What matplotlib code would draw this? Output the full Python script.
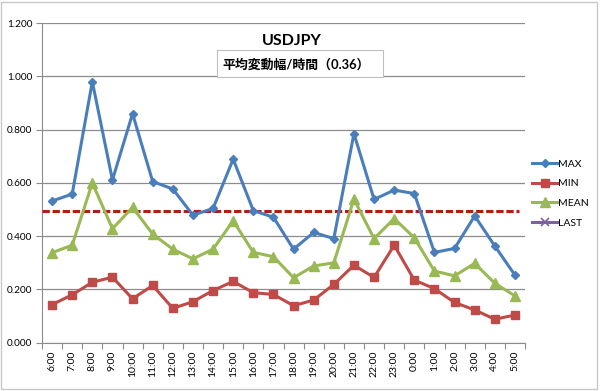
import matplotlib
matplotlib.use("Agg")
import matplotlib.pyplot as plt
from matplotlib.patches import Rectangle

plt.rcParams['font.family'] = ['Lato', 'Noto Sans CJK JP', 'DejaVu Sans']

hours = ["6:00", "7:00", "8:00", "9:00", "10:00", "11:00", "12:00", "13:00", "14:00",
         "15:00", "16:00", "17:00", "18:00", "19:00", "20:00", "21:00", "22:00", "23:00",
         "0:00", "1:00", "2:00", "3:00", "4:00", "5:00"]
max_vals = [0.532, 0.558, 0.980, 0.611, 0.860, 0.605, 0.577, 0.479, 0.504, 0.689, 0.496, 0.471,
            0.351, 0.414, 0.391, 0.785, 0.538, 0.573, 0.560, 0.339, 0.354, 0.476, 0.363, 0.254]
min_vals = [0.143, 0.180, 0.227, 0.246, 0.165, 0.215, 0.129, 0.154, 0.196, 0.230, 0.188, 0.181,
            0.139, 0.160, 0.219, 0.291, 0.245, 0.366, 0.235, 0.203, 0.151, 0.123, 0.088, 0.104]
mean_vals = [0.338, 0.366, 0.600, 0.428, 0.508, 0.408, 0.351, 0.315, 0.351, 0.458, 0.339, 0.323,
             0.244, 0.288, 0.300, 0.539, 0.391, 0.466, 0.394, 0.269, 0.251, 0.298, 0.223, 0.176]
last_vals = []
threshold = 0.493
title = "USDJPY"
subtitle = "平均変動幅/時間（0.36）"

fig = plt.figure(figsize=(6, 3.91), dpi=100)
ax = fig.add_axes([0.070, 0.1235, 0.805, 0.8175])

x = list(range(len(hours)))
ax.plot(x, max_vals, color='#4A7EBB', lw=2.2, marker='D', ms=4.5, label='MAX', zorder=4)
ax.plot(x, min_vals, color='#BE4B48', lw=2.2, marker='s', ms=6, label='MIN', zorder=4)
ax.plot(x, mean_vals, color='#98B954', lw=2.2, marker='^', ms=6.5, label='MEAN', zorder=4)
ax.plot(last_vals, last_vals, color='#7D60A0', lw=2.2, marker='x', ms=6, mew=1.2, label='LAST')

ax.plot([-0.5, len(hours) - 0.8], [threshold, threshold], color='#B01E16', lw=2.2,
        ls=(0, (2.4, 0.9)), zorder=3)

ax.set_xlim(-0.5, len(hours) - 0.5)
ax.set_ylim(0, 1.2)
yt = [0, 0.2, 0.4, 0.6, 0.8, 1.0, 1.2]
ax.set_yticks(yt)
ax.set_yticklabels([f"{v:.3f}" for v in yt], fontsize=7.2)
ax.grid(axis='y', color='#8C8C8C', lw=0.9)
ax.set_axisbelow(True)

ax.set_xticks([i - 0.5 for i in range(len(hours) + 1)])
ax.set_xticklabels([])
ax.set_xticks(x, minor=True)
ax.set_xticklabels(hours, minor=True, rotation=90, fontsize=7.5)
ax.tick_params(axis='x', which='major', length=4, color='#8C8C8C', direction='out')
ax.tick_params(axis='x', which='minor', length=0, pad=6)
ax.tick_params(axis='y', length=4, color='#8C8C8C', pad=3)

for s in ['top', 'right']:
    ax.spines[s].set_visible(False)
ax.spines['left'].set_color('#8C8C8C')
ax.spines['bottom'].set_color('#8C8C8C')

fig.text(0.486, 0.895, title, ha='center', va='center', fontsize=11.5, fontweight='bold')
fig.patches.append(Rectangle((0.3617, 0.803), 0.2767, 0.069, transform=fig.transFigure,
                             fc='white', ec='#BFBFBF', lw=0.8, zorder=5))
fig.text(0.494, 0.836, subtitle, ha='center', va='center', fontsize=9.3, fontweight='bold',
         zorder=6)

ax.legend(loc='center left', bbox_to_anchor=(1.0, 0.467), frameon=False, fontsize=7.5,
          handlelength=2.4, handletextpad=0.1, labelspacing=1.0, borderaxespad=0.3)

fig.patches.append(Rectangle((0.002, 0.006), 0.993, 0.99, transform=fig.transFigure,
                             fill=False, ec='#C8C8C8', lw=1))

fig.savefig('out.png', dpi=100)
